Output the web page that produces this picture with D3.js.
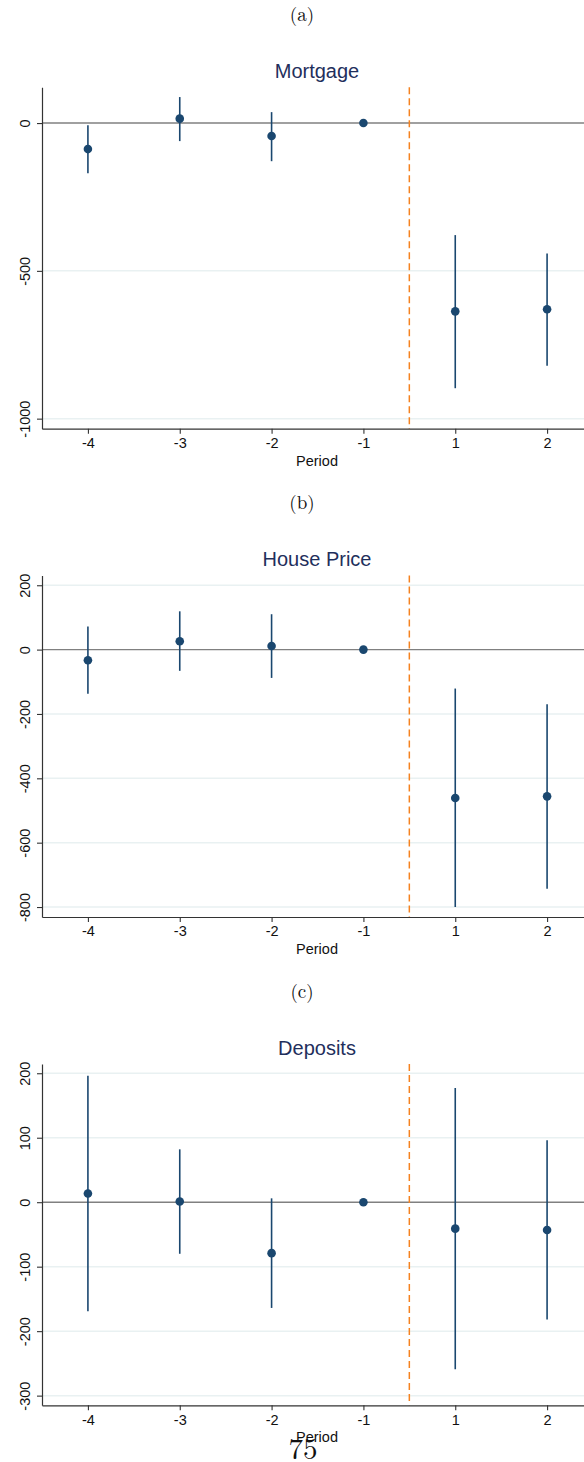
<!DOCTYPE html>
<html>
<head>
<meta charset="utf-8">
<script src="https://cdn.jsdelivr.net/npm/d3@7"></script>
<style>
  html, body { margin: 0; padding: 0; background: #ffffff; }
  svg { display: block; }
</style>
</head>
<body>
<div id="chart"></div>
<script>
// ---------------- DATA ----------------
const periods = ["-4", "-3", "-2", "-1", "1", "2"];

const panelLabels = ["(a)", "(b)", "(c)"];
const panelTitles = ["Mortgage", "House Price", "Deposits"];

const mortgageCoef = [-88, 15, -44, 0, -637, -630];
const mortgageLo   = [-170, -61, -129, 0, -897, -821];
const mortgageHi   = [-7, 88, 37, 0, -379, -441];
const mortgageTicks = [0, -500, -1000];
const mortgageDomain = [-1034, 121];

const houseCoef = [-33, 26, 11, 0, -461, -456];
const houseLo   = [-137, -66, -88, 0, -800, -743];
const houseHi   = [72, 119, 110, 0, -121, -170];
const houseTicks = [200, 0, -200, -400, -600, -800];
const houseDomain = [-831, 230];

const depositsCoef = [13.5, 1, -79, 0, -41, -43];
const depositsLo   = [-169, -80, -164, 0, -259, -182];
const depositsHi   = [196, 82, 6, 0, 177, 96];
const depositsTicks = [200, 100, 0, -100, -200, -300];
const depositsDomain = [-315, 214.5];

const xAxisTitle = "Period";
const pageNumber = "75";

// ---------------- LAYOUT ----------------
const W = 584, H = 1462;
const plotLeft = 42, plotRight = 593;
const plotTop0 = 87.3, plotH = 341.4, panelStep = 488.3;

const navy = "#1a476f";
const titleColor = "#1f2f5c";
const sans = "'Liberation Sans', Arial, sans-serif";
const serif = "'Latin Modern Roman', 'DejaVu Serif', 'Liberation Serif', serif";

const svg = d3.select("#chart").append("svg")
  .attr("width", W).attr("height", H)
  .attr("viewBox", `0 0 ${W} ${H}`);

const panels = [
  {coef: mortgageCoef, lo: mortgageLo, hi: mortgageHi, ticks: mortgageTicks, domain: mortgageDomain},
  {coef: houseCoef, lo: houseLo, hi: houseHi, ticks: houseTicks, domain: houseDomain},
  {coef: depositsCoef, lo: depositsLo, hi: depositsHi, ticks: depositsTicks, domain: depositsDomain}
];

const x = d3.scaleLinear().domain([-0.5, periods.length - 0.5]).range([plotLeft, plotRight]);
const idx = d3.range(periods.length);

panels.forEach((p, k) => {
  const top = plotTop0 + k * panelStep;
  const bottom = top + plotH;
  const y = d3.scaleLinear().domain(p.domain).range([bottom, top]);
  const g = svg.append("g");

  // panel label (a)/(b)/(c)
  g.append("text")
    .attr("x", 302).attr("y", 21 + k * panelStep)
    .attr("text-anchor", "middle")
    .attr("font-family", serif).attr("font-size", 19)
    .attr("fill", "#111")
    .text(panelLabels[k]);

  // title
  g.append("text")
    .attr("x", 317).attr("y", 78 + k * panelStep)
    .attr("text-anchor", "middle")
    .attr("font-family", sans).attr("font-size", 20)
    .attr("fill", titleColor)
    .text(panelTitles[k]);

  // gridlines
  g.append("g").selectAll("line").data(p.ticks.filter(t => t !== 0)).join("line")
    .attr("x1", plotLeft).attr("x2", W)
    .attr("y1", d => y(d)).attr("y2", d => y(d))
    .attr("stroke", "#e9f1f2").attr("stroke-width", 1.5);

  // zero line
  g.append("line")
    .attr("x1", plotLeft).attr("x2", W)
    .attr("y1", y(0)).attr("y2", y(0))
    .attr("stroke", "#808080").attr("stroke-width", 1.4);

  // dashed treatment line
  g.append("line")
    .attr("x1", x(3.5)).attr("x2", x(3.5))
    .attr("y1", top).attr("y2", bottom)
    .attr("stroke", "#f5821f").attr("stroke-width", 1.5)
    .attr("stroke-dasharray", "7,4");

  // CI lines
  g.append("g").selectAll("line").data(idx.filter(i => p.lo[i] !== p.hi[i])).join("line")
    .attr("x1", i => x(i)).attr("x2", i => x(i))
    .attr("y1", i => y(p.lo[i])).attr("y2", i => y(p.hi[i]))
    .attr("stroke", navy).attr("stroke-width", 1.6);

  // markers
  g.append("g").selectAll("circle").data(idx).join("circle")
    .attr("cx", i => x(i)).attr("cy", i => y(p.coef[i]))
    .attr("r", 4.3)
    .attr("fill", navy);

  // y axis
  const ya = g.append("g").attr("transform", `translate(${plotLeft},0)`)
    .call(d3.axisLeft(y).tickValues(p.ticks).tickSize(5).tickSizeOuter(0).tickFormat(d3.format("d")));
  ya.select(".domain").attr("stroke", "#333").attr("stroke-width", 1.2);
  ya.selectAll(".tick line").attr("stroke", "#333").attr("stroke-width", 1.1);
  ya.selectAll(".tick text")
    .attr("transform", "rotate(-90)")
    .attr("x", 0).attr("y", -12.5).attr("dy", 0)
    .attr("text-anchor", "middle")
    .attr("font-family", sans).attr("font-size", 14.5)
    .attr("fill", "#111")
    .text(d => d < 0 ? "-" + Math.abs(d) : String(d));

  // x axis
  const xa = g.append("g").attr("transform", `translate(0,${bottom})`)
    .call(d3.axisBottom(x).tickValues(idx).tickSize(5).tickSizeOuter(0).tickFormat(i => periods[i]));
  xa.select(".domain").attr("stroke", "#333").attr("stroke-width", 1.2);
  xa.selectAll(".tick line").attr("stroke", "#333").attr("stroke-width", 1.1);
  xa.selectAll(".tick text")
    .attr("y", 19.3).attr("dy", 0)
    .attr("font-family", sans).attr("font-size", 14.5)
    .attr("fill", "#111");

  // x axis title
  g.append("text")
    .attr("x", 317).attr("y", bottom + 37)
    .attr("text-anchor", "middle")
    .attr("font-family", sans).attr("font-size", 14.5)
    .attr("fill", "#111")
    .text(xAxisTitle);
});

// page number
svg.append("text")
  .attr("x", 303).attr("y", 1459)
  .attr("text-anchor", "middle")
  .attr("font-family", serif).attr("font-size", 29)
  .attr("fill", "#111")
  .text(pageNumber);
</script>
</body>
</html>
